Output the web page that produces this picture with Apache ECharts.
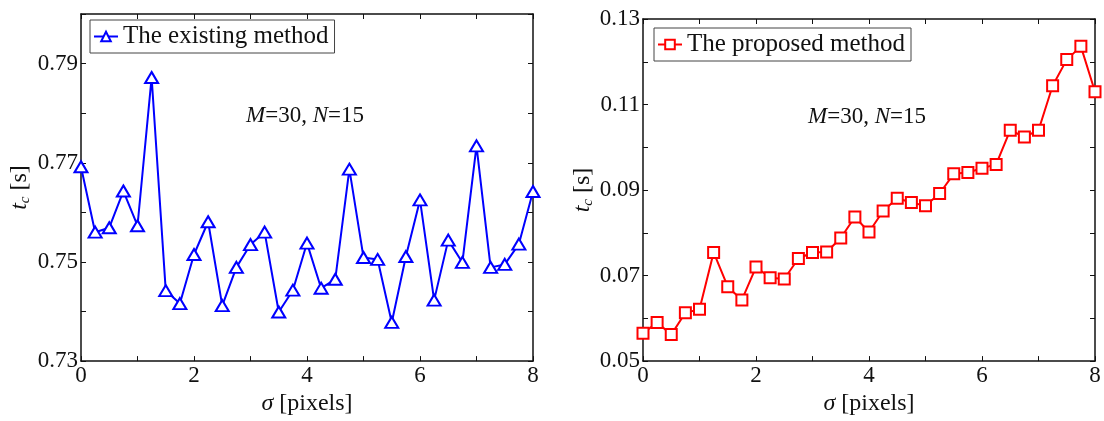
<!DOCTYPE html>
<html>
<head>
<meta charset="utf-8">
<script src="https://cdn.jsdelivr.net/npm/echarts@6/dist/echarts.min.js"></script>
<style>
  html, body { margin: 0; padding: 0; background: #fff; }
  #main { width: 1104px; height: 421px; }
</style>
</head>
<body>
<div id="main"></div>
<script>
// sigma [pixels]
var sigma = [0, 0.25, 0.5, 0.75, 1, 1.25, 1.5, 1.75, 2, 2.25, 2.5, 2.75, 3, 3.25, 3.5, 3.75,
    4, 4.25, 4.5, 4.75, 5, 5.25, 5.5, 5.75, 6, 6.25, 6.5, 6.75, 7, 7.25, 7.5, 7.75, 8];

// t_c [s]
var existingTc = [0.7692, 0.7560, 0.7569, 0.7643, 0.7573, 0.7872, 0.7442, 0.7416, 0.7515, 0.7581,
    0.7412, 0.7489, 0.7535, 0.7560, 0.7399, 0.7443, 0.7538, 0.7447, 0.7465, 0.7687, 0.7509,
    0.7505, 0.7378, 0.7511, 0.7625, 0.7423, 0.7544, 0.7499, 0.7734, 0.7489, 0.7495, 0.7536, 0.7642];
var proposedTc = [0.0565, 0.0590, 0.0562, 0.0613, 0.0621, 0.0754, 0.0674, 0.0643, 0.0720, 0.0695,
    0.0692, 0.0740, 0.0754, 0.0755, 0.0788, 0.0837, 0.0802, 0.0851, 0.0881, 0.0871, 0.0863,
    0.0892, 0.0938, 0.0941, 0.0951, 0.0960, 0.1040, 0.1024, 0.1040, 0.1144, 0.1205, 0.1236, 0.1130];

var leftY = { min: 0.73, max: 0.80, step: 0.01 };
var rightY = { min: 0.05, max: 0.13, step: 0.01 };

var FONT = 'Liberation Serif';
var INK = '#111';

function pairs(xs, ys) {
    return xs.map(function (x, i) { return [x, ys[i]]; });
}

// odd hundredths get a label (0.73, 0.75 ... / 0.05, 0.07 ...)
function yLabel(v) {
    var k = Math.round(v * 100);
    return k % 2 === 1 ? v.toFixed(2) : '';
}

function xAxisFor(gridIndex, top) {
    return {
        type: 'value', gridIndex: gridIndex, position: top ? 'top' : 'bottom',
        min: 0, max: 8, interval: 1,
        axisLine: { show: true, onZero: false, lineStyle: { color: INK, width: 1.5 } },
        axisTick: { show: true, inside: true, length: 5, lineStyle: { color: INK, width: 1 } },
        splitLine: { show: false },
        axisLabel: top ? { show: false } : {
            show: true, margin: 3, color: INK, fontFamily: FONT, fontSize: 23,
            formatter: function (v) { return v % 2 === 0 ? String(v) : ''; }
        },
        name: top ? '' : '{s|σ} [pixels]',
        nameLocation: 'middle', nameGap: 25,
        nameTextStyle: {
            color: INK, fontFamily: FONT, fontSize: 24,
            rich: { s: { fontStyle: 'italic', fontFamily: FONT, fontSize: 24, color: INK } }
        }
    };
}

function yAxisFor(gridIndex, rng, right, gap) {
    return {
        type: 'value', gridIndex: gridIndex, position: right ? 'right' : 'left',
        min: rng.min, max: rng.max, interval: rng.step,
        axisLine: { show: true, onZero: false, lineStyle: { color: INK, width: 1.5 } },
        axisTick: { show: true, inside: true, length: 5, lineStyle: { color: INK, width: 1 } },
        splitLine: { show: false },
        axisLabel: right ? { show: false } : {
            show: true, margin: 3, color: INK, fontFamily: FONT, fontSize: 23,
            formatter: yLabel
        },
        name: right ? '' : '{t|t}{c|c} [s]',
        nameLocation: 'middle', nameGap: gap, nameRotate: 90,
        nameTextStyle: {
            color: INK, fontFamily: FONT, fontSize: 24,
            rich: {
                t: { fontStyle: 'italic', fontFamily: FONT, fontSize: 24, color: INK, lineHeight: 26 },
                c: { fontStyle: 'italic', fontFamily: FONT, fontSize: 15, color: INK, verticalAlign: 'bottom', lineHeight: 26 }
            }
        }
    };
}

function legendFor(name, left, top) {
    return {
        data: [name], left: left, top: top,
        orient: 'horizontal',
        backgroundColor: '#fff', borderColor: '#444', borderWidth: 1, borderRadius: 0,
        padding: [4, 6, 4, 3], itemWidth: 24, itemHeight: 12,
        textStyle: { color: INK, fontFamily: FONT, fontSize: 25 }
    };
}

function annotation(cx, cy) {
    return {
        type: 'text', left: cx - 61, top: cy - 13,
        style: {
            text: '{i|M}=30, {i|N}=15',
            fill: INK, font: '23px "' + FONT + '"',
            rich: { i: { fontStyle: 'italic', fontFamily: FONT, fontSize: 23, fill: INK } }
        }
    };
}

var myChart = echarts.init(document.getElementById('main'), null, { renderer: 'canvas' });

var option = {
    backgroundColor: '#fff',
    animation: false,
    grid: [
        { left: 81, top: 14, width: 452, height: 352 },
        { left: 643, top: 19, width: 452, height: 353 }
    ],
    legend: [
        legendFor('The existing method', 90, 20),
        legendFor('The proposed method', 654, 28)
    ],
    xAxis: [xAxisFor(0, false), xAxisFor(0, true), xAxisFor(1, false), xAxisFor(1, true)],
    yAxis: [yAxisFor(0, leftY, false, 48), yAxisFor(0, leftY, true, 0),
            yAxisFor(1, rightY, false, 43), yAxisFor(1, rightY, true, 0)],
    graphic: [annotation(307, 117), annotation(869, 118)],
    series: [
        {
            name: 'The existing method', type: 'line',
            xAxisIndex: 0, yAxisIndex: 0,
            data: pairs(sigma, existingTc),
            symbol: 'emptyTriangle', symbolSize: [13, 11],
            lineStyle: { color: '#0000ff', width: 2 },
            itemStyle: { color: '#0000ff', borderWidth: 2 }
        },
        {
            name: 'The proposed method', type: 'line',
            xAxisIndex: 2, yAxisIndex: 2,
            data: pairs(sigma, proposedTc),
            symbol: 'emptyRect', symbolSize: 11,
            lineStyle: { color: '#ff0000', width: 2 },
            itemStyle: { color: '#ff0000', borderWidth: 2 }
        }
    ]
};

myChart.setOption(option);
window.onresize = myChart.resize;
</script>
</body>
</html>
